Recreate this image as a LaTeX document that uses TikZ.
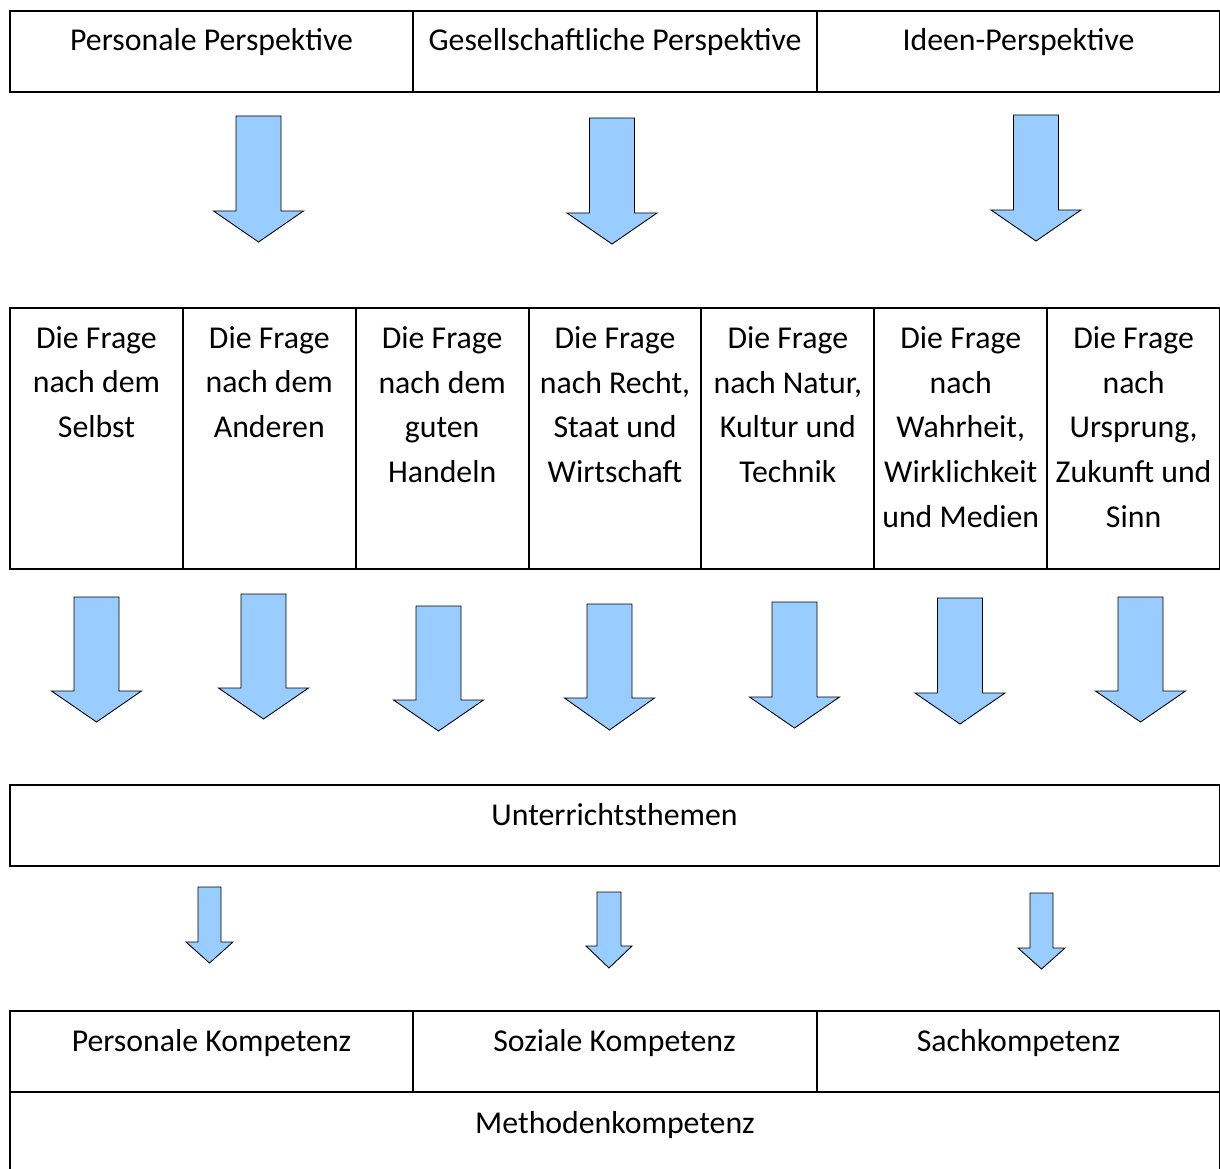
\documentclass[tikz,border=0pt]{standalone}
\usepackage{fontspec}
\setmainfont{Carlito}
\usepackage{tikz}
\usetikzlibrary{calc}

\definecolor{hellblau}{RGB}{153,204,255}

% x, oben, halbe Schaftbreite, halbe Spitzenbreite, Spitzenansatz, Spitze
\newcommand{\pfeil}[6]{%
	\draw[pfeilstil] (#1-#3,#2) -- (#1+#3,#2) -- (#1+#3,#5) -- (#1+#4,#5) -- (#1,#6) -- (#1-#4,#5) -- (#1-#3,#5) -- cycle;}

\begin{document}
\begin{tikzpicture}[x=0.02cm,y=-0.02cm]
	\tikzstyle{every node}=[font=\fontsize{18.1}{25.4}\selectfont, inner sep=0pt]
	\tikzstyle{kasten}=[draw=black, line width=1.1pt]
	\tikzstyle{txt}=[anchor=base, align=center]
	\tikzstyle{pfeilstil}=[draw=black, line width=0.5pt, fill=hellblau, line join=miter]
	
	\useasboundingbox (0,0) rectangle (1220,1169);
	\clip (0,0) rectangle (1220,1169);
	
	% Perspektiven
	\draw[kasten] (10,11) rectangle (413,92);
	\draw[kasten] (413,11) rectangle (817,92);
	\draw[kasten] (817,11) rectangle (1220,92);
	\node[txt] (personal) at (211.5,51) {Personale Perspektive};
	\node[txt] (gesellschaft) at (615,51) {Gesellschaftliche Perspektive};
	\node[txt] (ideen) at (1018.5,51) {Ideen-Perspektive};
	
	\pfeil{258.5}{116}{22.5}{45}{211}{242}
	\pfeil{612}{118}{22.5}{45}{213}{244}
	\pfeil{1036}{115}{22.5}{45}{210}{241}
	
	% Fragen (base = letzte Zeile)
	\foreach \i/\n/\txt in {1/3/{Die Frage\\nach dem\\Selbst},
		2/3/{Die Frage\\nach dem\\Anderen},
		3/4/{Die Frage\\nach dem\\guten\\Handeln},
		4/4/{Die Frage\\nach Recht,\\Staat und\\Wirtschaft},
		5/4/{Die Frage\\nach Natur,\\Kultur und\\Technik},
		6/5/{Die Frage\\nach\\Wahrheit,\\Wirklichkeit\\und Medien},
		7/5/{Die Frage\\nach\\Ursprung,\\Zukunft und\\Sinn}}{
		\draw[kasten] ({10+172.86*(\i-1)},308) rectangle ({10+172.86*\i},569);
		\node[txt] (frage\i) at ({10+172.86*(\i-0.5)},{348+44.8*(\n-1)}) {\txt};
	}
	
	\pfeil{96.5}{597}{22.5}{45}{691}{722}
	\pfeil{263.5}{594}{22.5}{45}{688}{719}
	\pfeil{438.5}{606}{22.5}{45}{700}{731}
	\pfeil{609.5}{604}{22.5}{45}{698}{730}
	\pfeil{794.5}{602}{22.5}{45}{697}{728}
	\pfeil{960}{598}{22.5}{45}{693}{724}
	\pfeil{1140.5}{597}{22.5}{45}{691}{722}
	
	% Themen
	\draw[kasten] (10,785) rectangle (1220,866);
	\node[txt] (themen) at (614.5,825) {Unterrichtsthemen};
	
	\pfeil{209.5}{887}{11.5}{23.5}{942}{963}
	\pfeil{609}{892}{12}{23}{946}{968}
	\pfeil{1041.5}{893}{11.5}{23.5}{948}{969}
	
	% Kompetenzen
	\draw[kasten] (10,1011) rectangle (413,1092);
	\draw[kasten] (413,1011) rectangle (817,1092);
	\draw[kasten] (817,1011) rectangle (1220,1092);
	\draw[kasten] (10,1092) rectangle (1220,1200);
	\node[txt] (personalk) at (211.5,1051) {Personale Kompetenz};
	\node[txt] (sozialk) at (614.5,1051) {Soziale Kompetenz};
	\node[txt] (sachk) at (1018.5,1051) {Sachkompetenz};
	\node[txt] (methodenk) at (615,1133) {Methodenkompetenz};
	
\end{tikzpicture}
\end{document}
